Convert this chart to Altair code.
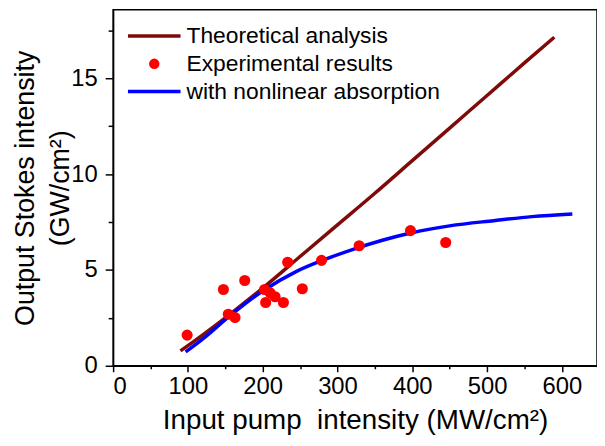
import altair as alt
import pandas as pd

# ---- data ----
series_names = ["Theoretical analysis", "Experimental results", "with nonlinear absorption"]

theory_x = [90, 100, 150, 200, 250, 300, 350, 400, 450, 500, 550, 590]
theory_y = [0.78, 1.05, 2.5, 4.05, 5.7, 7.35, 9.0, 10.7, 12.4, 14.1, 15.8, 17.14]

nonlin_x = [97, 120, 156, 200, 244, 280, 319, 360, 398, 450, 509, 560, 614]
nonlin_y = [0.72, 1.4, 2.6, 3.9, 4.9, 5.5, 6.05, 6.55, 6.93, 7.3, 7.57, 7.78, 7.92]

exp_x = [99, 147.5, 154, 163, 176, 202.5, 204, 210, 216.6, 227.7, 233.4, 253, 278.7, 329, 397.6, 444.7]
exp_y = [1.6, 3.98, 2.69, 2.52, 4.45, 3.98, 3.3, 3.8, 3.6, 3.3, 5.4, 4.02, 5.5, 6.26, 7.05, 6.43]

x_ticks = list(range(0, 601, 50))
y_ticks = [0, 2.5, 5, 7.5, 10, 12.5, 15, 17.5]

colors = ["#7f0a0a", "#ff0000", "#0000ff"]
line_path = "M-7.5,0H7.5"
shapes = [line_path, "circle", line_path]

lines_df = pd.DataFrame(
    {"x": theory_x + nonlin_x,
     "y": theory_y + nonlin_y,
     "series": [series_names[0]] * len(theory_x) + [series_names[2]] * len(nonlin_x)}
)
pts_df = pd.DataFrame({"x": exp_x, "y": exp_y, "series": [series_names[1]] * len(exp_x)})

FONT = "Liberation Sans"

x_enc = alt.X(
    "x:Q",
    scale=alt.Scale(domain=[0, 647], nice=False, zero=False),
    axis=alt.Axis(
        title="Input pump\u00a0 intensity (MW/cm²)",
        values=x_ticks,
        labelExpr="datum.value % 100 == 0 ? datum.label : ''",
        tickSize={"condition": {"test": "datum.value % 100 == 0", "value": 6}, "value": 3},
        labelPadding=3,
        titlePadding=8,
        titleFontSize=28,
    ),
)
y_enc = alt.Y(
    "y:Q",
    scale=alt.Scale(domain=[0, 18.57], nice=False),
    axis=alt.Axis(
        title=["Output Stokes intensity", "(GW/cm²)"],
        values=y_ticks,
        labelExpr="datum.value % 5 == 0 ? datum.label : ''",
        tickSize={"condition": {"test": "datum.value % 5 == 0", "value": 8}, "value": 5},
        labelPadding=8,
        titlePadding=-4,
        titleFontSize=27,
        titleLineHeight=36,
    ),
)

stroke_scale = alt.Scale(domain=series_names, range=colors)
legend = alt.Legend(
    title=None,
    orient="none",
    legendX=30,
    legendY=15,
    labelFont=FONT,
    labelFontSize=23,
    labelOffset=21,
    labelLimit=400,
    symbolSize=50,
    symbolStrokeWidth=3.5,
    rowPadding=4,
    padding=0,
    symbolOpacity=1,
)

lines = alt.Chart(lines_df).mark_line(strokeWidth=3.5, interpolate="monotone").encode(
    x=x_enc,
    y=y_enc,
    stroke=alt.Stroke("series:N", scale=stroke_scale, legend=legend),
    detail="series:N",
)

points = alt.Chart(pts_df).mark_point(filled=True, size=85, opacity=1).encode(
    x=x_enc,
    y=y_enc,
    stroke=alt.Stroke("series:N", scale=stroke_scale, legend=legend),
    fill=alt.Fill("series:N", scale=stroke_scale, legend=legend),
    shape=alt.Shape("series:N", scale=alt.Scale(domain=series_names, range=shapes), legend=legend),
)

chart = (
    alt.layer(lines, points)
    .properties(width=488, height=359, padding={"left": 3, "top": 0, "right": 0, "bottom": 0})
    .configure_view(stroke="black", strokeWidth=1.5)
    .configure_axis(
        grid=False,
        domainColor="black",
        domainWidth=1.5,
        tickColor="black",
        tickWidth=1.5,
        labelFont=FONT,
        labelFontSize=24,
        labelColor="black",
        titleFont=FONT,
        titleFontWeight="normal",
        titleColor="black",
    )
)

chart.save("out.html", embed_options={"renderer": "svg", "actions": False})
